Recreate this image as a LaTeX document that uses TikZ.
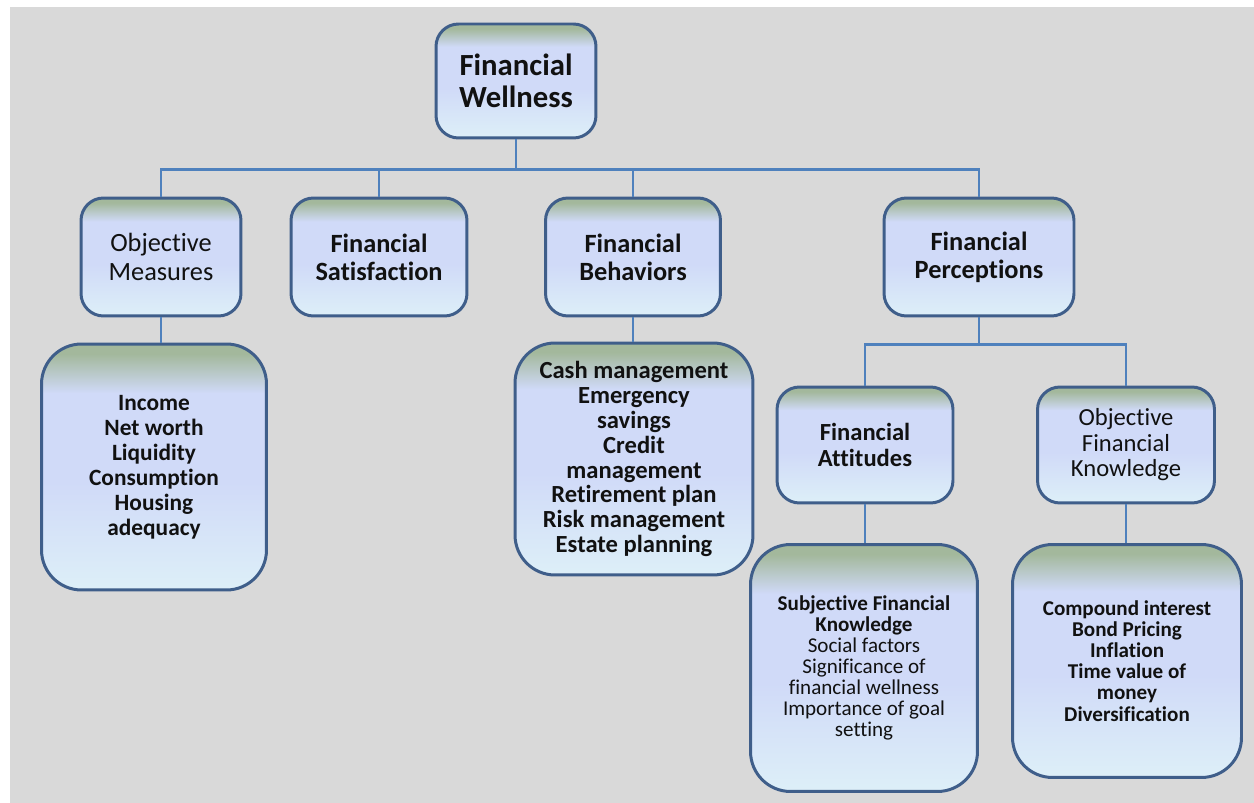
\documentclass[tikz,border=0pt]{standalone}
\usepackage{fontspec}
\setmainfont{Carlito}[Ligatures=NoCommon]
\usetikzlibrary{positioning}
\definecolor{page-grey}{HTML}{D9D9D9}
\definecolor{box-border}{HTML}{3F5E8A}
\definecolor{link-color}{HTML}{4F81BD}
\definecolor{fill-top}{HTML}{A3B89C}
\definecolor{fill-mid}{HTML}{D0DAF8}
\definecolor{fill-bottom}{HTML}{DDEFF8}
\definecolor{text-color}{HTML}{111111}
% the box is mapped onto 25bp..75bp of the shading
\pgfdeclareverticalshading{card-shade}{100bp}{color(0bp)=(fill-bottom); color(25bp)=(fill-bottom); color(47bp)=(fill-mid); color(65bp)=(fill-mid); color(73bp)=(fill-top); color(100bp)=(fill-top)}
\tikzset{
  card/.style={
    draw=box-border, line width=1.7pt, shade, shading=card-shade,
    rounded corners=0.45cm, align=center, text=text-color, inner sep=2pt
  },
  list-card/.style={card, rounded corners=0.8cm},
  link/.style={draw=link-color, line width=1.3pt}
}

\begin{document}
\begin{tikzpicture}[x=0.02cm, y=-0.02cm]
  \useasboundingbox (0,0) rectangle (1254,803);
  \fill[white] (0,0) rectangle (1254,803);
  \fill[page-grey] (10,7) rectangle (1254,803);

  % top of the tree
  \node[card, minimum width=3.2cm, minimum height=2.28cm,
        font=\fontsize{17.5}{18}\selectfont\bfseries] (wellness) at (516,81) {Financial\\Wellness};

  % four branches
  \node[card, minimum width=3.2cm, minimum height=2.36cm,
        font=\fontsize{15}{16}\selectfont] (objmeasures) at (161,257) {Objective\\Measures};
  \node[card, minimum width=3.52cm, minimum height=2.36cm,
        font=\fontsize{15}{16}\selectfont\bfseries] (satisfaction) at (379,257) {Financial\\Satisfaction};
  \node[card, minimum width=3.5cm, minimum height=2.36cm,
        font=\fontsize{15}{16}\selectfont\bfseries] (behaviors) at (633,257) {Financial\\Behaviors};
  \node[card, minimum width=3.8cm, minimum height=2.36cm,
        font=\fontsize{15}{16}\selectfont\bfseries] (perceptions) at (979,257) {Financial\\Perceptions};

  % lists under the branches
  \node[list-card, minimum width=4.5cm, minimum height=4.92cm,
        font=\fontsize{13.3}{14.2}\selectfont\bfseries] (measlist) at (154,467)
        {Income\\Net worth\\Liquidity\\Consumption\\Housing\\adequacy};
  \node[list-card, minimum width=4.76cm, minimum height=4.64cm,
        font=\fontsize{14}{14.2}\selectfont\bfseries] (behavlist) at (634,459)
        {Cash management\\Emergency\\savings\\Credit\\management\\Retirement plan\\Risk management\\Estate planning};

  % perceptions split in two
  \node[card, minimum width=3.52cm, minimum height=2.32cm,
        font=\fontsize{14}{14.5}\selectfont\bfseries] (attitudes) at (865,445) {Financial\\Attitudes};
  \node[card, minimum width=3.54cm, minimum height=2.32cm,
        font=\fontsize{14}{14.5}\selectfont] (objknowledge) at (1126,445) {Objective\\Financial\\Knowledge};

  \node[list-card, minimum width=4.54cm, minimum height=4.94cm,
        font=\fontsize{12}{12}\selectfont] (attlist) at (864,668)
        {\textbf{Subjective Financial}\\\textbf{Knowledge}\\Social factors\\Significance of\\financial wellness\\Importance of goal\\setting};
  \node[list-card, minimum width=4.58cm, minimum height=4.66cm,
        font=\fontsize{12}{12}\selectfont\bfseries] (knowlist) at (1127,661)
        {Compound interest\\Bond Pricing\\Inflation\\Time value of\\money\\Diversification};

  % connectors
  \draw[link] (wellness.south) -- ++(0,30) coordinate (bus);
  \draw[link] (bus) -| (objmeasures.north);
  \draw[link] (bus) -| (satisfaction.north);
  \draw[link] (bus) -| (behaviors.north);
  \draw[link] (bus) -| (perceptions.north);
  \draw[link] (objmeasures.south) -- (objmeasures.south |- measlist.north);
  \draw[link] (behaviors.south) -- (behaviors.south |- behavlist.north);
  \draw[link] (perceptions.south) -- ++(0,27) coordinate (subbus);
  \draw[link] (subbus) -| (attitudes.north);
  \draw[link] (subbus) -| (objknowledge.north);
  \draw[link] (attitudes.south) -- (attitudes.south |- attlist.north);
  \draw[link] (objknowledge.south) -- (objknowledge.south |- knowlist.north);
\end{tikzpicture}
\end{document}
